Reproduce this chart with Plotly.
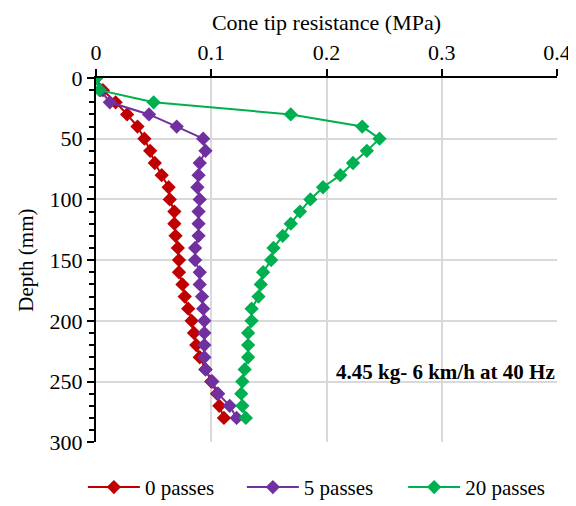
import plotly.graph_objects as go

depth = list(range(0, 290, 10))

passes0 = [0, 0.006, 0.017, 0.027, 0.036, 0.042, 0.047, 0.051, 0.057, 0.063,
           0.064, 0.068, 0.068, 0.069, 0.071, 0.072, 0.072, 0.075, 0.077, 0.080,
           0.083, 0.085, 0.087, 0.090, 0.095, 0.100, 0.105, 0.107, 0.111]
passes5 = [0, 0.004, 0.012, 0.046, 0.070, 0.093, 0.095, 0.090, 0.089, 0.088,
           0.090, 0.089, 0.089, 0.089, 0.086, 0.086, 0.090, 0.090, 0.092, 0.093,
           0.094, 0.094, 0.094, 0.094, 0.095, 0.101, 0.106, 0.116, 0.122]
passes20 = [0, 0.003, 0.050, 0.169, 0.231, 0.246, 0.235, 0.223, 0.212, 0.197,
            0.186, 0.177, 0.169, 0.162, 0.154, 0.152, 0.145, 0.143, 0.141, 0.135,
            0.135, 0.132, 0.132, 0.132, 0.129, 0.127, 0.126, 0.127, 0.130]

series = [("0 passes", passes0, "#C00000", "legend"),
          ("5 passes", passes5, "#7030A0", "legend2"),
          ("20 passes", passes20, "#00B050", "legend3")]
legend_x = {"legend": 0.130, "legend2": 0.406, "legend3": 0.686}

FONT = "Liberation Serif, Times New Roman, serif"

fig = go.Figure()
for name, vals, col, lg in series:
    fig.add_trace(go.Scatter(
        x=vals, y=depth, name=name, mode="lines+markers", legend=lg,
        line=dict(color=col, width=2),
        marker=dict(symbol="diamond", size=11, color=col),
    ))

fig.add_annotation(
    text="<b>4.45 kg- 6 km/h at 40 Hz</b>", x=0.4, y=242, xref="x", yref="y",
    xanchor="right", yanchor="middle", showarrow=False,
    font=dict(family=FONT, size=21, color="black"),
)

legends = {}
for lg, lx in legend_x.items():
    legends[lg] = dict(orientation="h", xref="container", x=lx, xanchor="left",
                       yref="container", y=0.012, yanchor="bottom",
                       font=dict(family=FONT, size=21), itemwidth=52,
                       bgcolor="rgba(0,0,0,0)")

fig.update_layout(
    width=576, height=506,
    margin=dict(l=88, r=27, t=70, b=61),
    paper_bgcolor="white", plot_bgcolor="white",
    font=dict(family=FONT, size=21, color="black"),
    showlegend=True,
    **legends,
    xaxis=dict(
        side="top", range=[0, 0.4], dtick=0.1, tickformat="~g",
        showgrid=True, gridcolor="#D9D9D9", gridwidth=2,
        showline=True, linecolor="black", linewidth=2,
        ticks="outside", ticklen=7, tickwidth=2, tickcolor="black",
        zeroline=False,
        title=dict(text="Cone tip resistance (MPa)", font=dict(family=FONT, size=22), standoff=4),
        tickfont=dict(family=FONT, size=22),
    ),
    yaxis=dict(
        range=[300, 0], dtick=50,
        showgrid=True, gridcolor="#D9D9D9", gridwidth=2,
        showline=True, linecolor="black", linewidth=2,
        ticks="outside", ticklen=7, tickwidth=2, tickcolor="black",
        minor=dict(dtick=10, ticks="outside", ticklen=5, tickwidth=2, tickcolor="black", showgrid=False),
        zeroline=False,
        title=dict(text="Depth (mm)", font=dict(family=FONT, size=21), standoff=10),
        tickfont=dict(family=FONT, size=22),
    ),
)

fig.write_html("out.html")
